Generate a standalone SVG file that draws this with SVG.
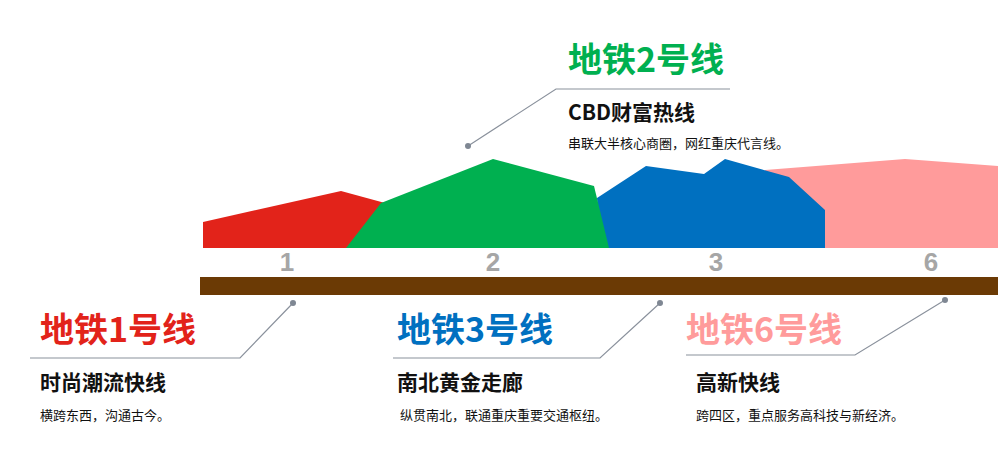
<svg xmlns="http://www.w3.org/2000/svg" width="998" height="458" viewBox="0 0 998 458">
<style>
.t{font-family:"Noto Sans CJK SC","Liberation Sans",sans-serif;font-weight:bold;font-size:34px}
.s{font-family:"Noto Sans CJK SC","Liberation Sans",sans-serif;font-weight:bold;font-size:21px;fill:#111}
.d{font-family:"Noto Sans CJK SC","Liberation Sans",sans-serif;font-size:13px;fill:#111}
.n{font-family:"Liberation Sans",sans-serif;font-weight:bold;font-size:26px;fill:#a6a6a6;text-anchor:middle}
.l{stroke:#8a919c;stroke-width:1.2;fill:none}
.dot{fill:#7f8793}
</style>
<g id="hills">
<polygon fill="#ff9b9b" points="759,248 765,170 905,159 998,166 998,248"/>
<polygon fill="#e2231a" points="203,248 203,222 341,191 385,203 385,248"/>
<polygon fill="#0070c0" points="600,248 597,198 646,166 704,174 725,159 789,177 825,210 825,248"/>
<polygon fill="#00b050" points="346,248 381,203 493,159 594,186 609,248"/>
</g>
<g id="axis">
<rect x="200" y="277" width="798" height="18" fill="#6b3a05"/>
<text class="n" x="287" y="271">1</text>
<text class="n" x="493" y="271">2</text>
<text class="n" x="716" y="271">3</text>
<text class="n" x="931" y="271">6</text>
</g>
<g id="connectors">
<polyline class="l" points="30,358 240,358 293,303"/>
<circle class="dot" cx="293" cy="303" r="3"/>
<polyline class="l" points="393,358 600,358 660,303"/>
<circle class="dot" cx="660" cy="303" r="3"/>
<polyline class="l" points="686,355 855,355 945,300"/>
<circle class="dot" cx="945" cy="300" r="3"/>
<polyline class="l" points="730,89 556,89 468,146"/>
<circle class="dot" cx="468" cy="146" r="3"/>
</g>
<g id="line1">
<text class="t" x="40" y="342" fill="#e2231a">地铁1号线</text>
<text class="s" x="40" y="390">时尚潮流快线</text>
<text class="d" x="40" y="420">横跨东西，沟通古今。</text>
</g>
<g id="line2">
<text class="t" x="568" y="72" fill="#00b050">地铁2号线</text>
<text class="s" x="568" y="120">CBD财富热线</text>
<text class="d" x="568" y="148">串联大半核心商圈，网红重庆代言线。</text>
</g>
<g id="line3">
<text class="t" x="397" y="342" fill="#0070c0">地铁3号线</text>
<text class="s" x="397" y="390">南北黄金走廊</text>
<text class="d" x="400" y="420">纵贯南北，联通重庆重要交通枢纽。</text>
</g>
<g id="line6">
<text class="t" x="686" y="342" fill="#ff9b9b">地铁6号线</text>
<text class="s" x="696" y="390">高新快线</text>
<text class="d" x="696" y="420">跨四区，重点服务高科技与新经济。</text>
</g>
</svg>
